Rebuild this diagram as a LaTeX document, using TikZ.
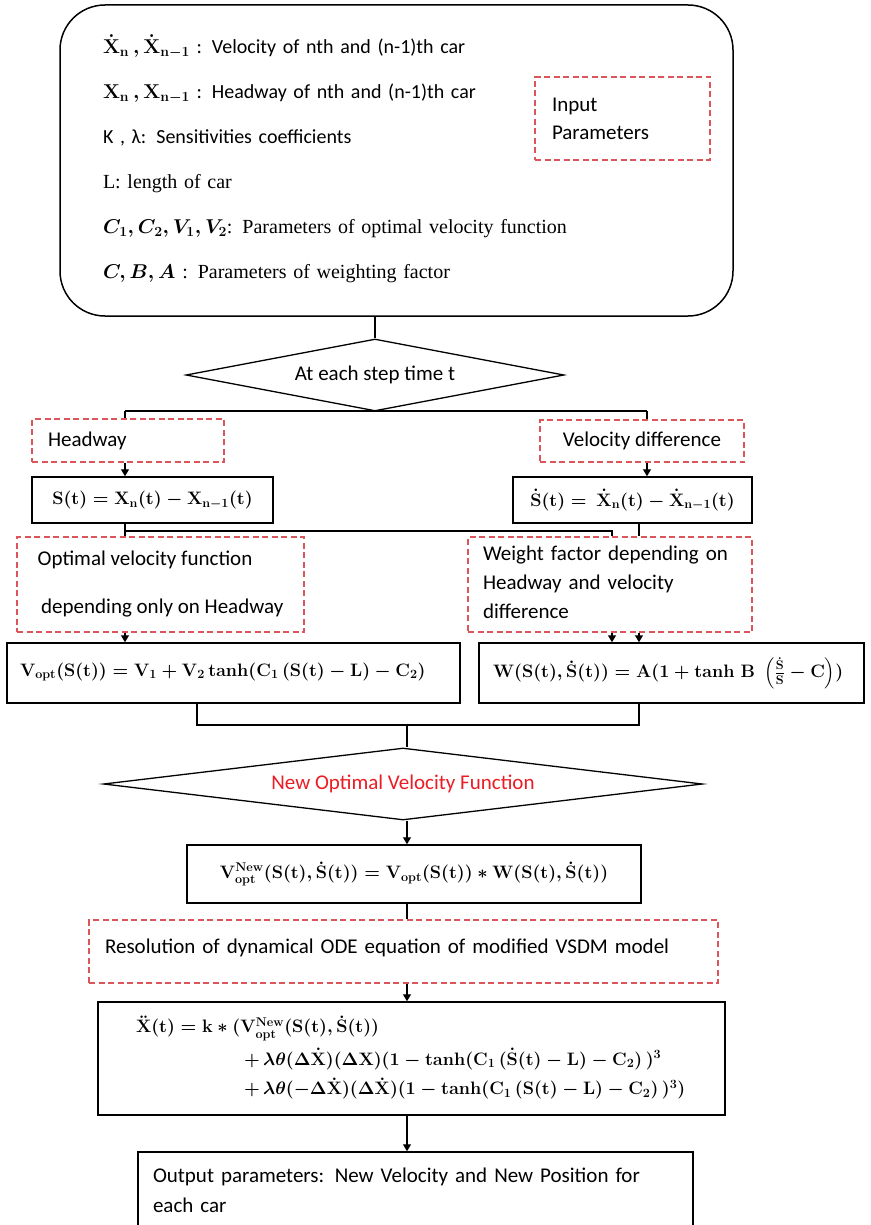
\RequirePackage{fix-cm}
\documentclass[tikz,border=0pt]{standalone}
\usepackage{amsmath}
\usepackage[no-math]{fontspec}
\setmainfont{Carlito}
\newfontfamily\serf{Liberation Serif}
\usetikzlibrary{shapes.geometric,arrows.meta}
\definecolor{dred}{RGB}{220,85,90}
\definecolor{tred}{RGB}{236,28,36}
\tikzset{
  solidbox/.style={draw=black, line width=1.5pt, fill=white, rectangle, inner sep=0pt},
  dashbox/.style={draw=dred, line width=1.3pt, dash pattern=on 6pt off 3.5pt, fill=white, rectangle, inner sep=0pt},
  decision/.style={draw=black, line width=1.3pt, diamond, fill=white, inner sep=0pt},
  conn/.style={line width=1.2pt, draw=black},
  arr/.style={conn, -{Triangle[length=7pt,width=8pt]}},
  tx/.style={font=\fontsize{21}{25}\selectfont},
  eq/.style={font=\fontsize{18}{22}\selectfont\boldmath},
}
\begin{document}
\begin{tikzpicture}[x=1pt,y=-1pt]
\useasboundingbox (0,0) rectangle (870,1225);

% input parameters
\node[solidbox, rounded corners=45pt, minimum width=673pt, minimum height=311pt,
      text width=587pt, align=left, inner xsep=43pt,
      font=\fontsize{20}{24}\selectfont\boldmath] (params) at (396.5,160.5)
{\raisebox{-8pt}{\begin{tabular}{@{}l@{}}
$\dot{\mathbf X}_{\mathbf n}\,,\dot{\mathbf X}_{\mathbf{n-1}}$ : Velocity of nth and (n-1)th car\\[21pt]
$\mathbf X_{\mathbf n}\,,\mathbf X_{\mathbf{n-1}}$ : Headway of nth and (n-1)th car\\[21pt]
K , λ: Sensitivities coefficients\\[21pt]
{\serf L: length of car}\\[21pt]
$\boldsymbol{C_1, C_2, V_1, V_2}${\serf: Parameters of optimal velocity function}\\[21pt]
$\boldsymbol{C, B, A}$ {\serf: Parameters of weighting factor}
\end{tabular}}};

\node[dashbox, tx, minimum width=175pt, minimum height=83pt, text width=141pt,
      inner xsep=17pt, align=left] (input) at (622.5,118.5) {Input\\[3pt]Parameters};

\node[decision, tx, minimum width=378pt, minimum height=72pt, shape aspect=5.25] (d1) at (375,375) {At each step time t};

\node[dashbox, tx, minimum width=192pt, minimum height=43pt, text width=160pt,
      inner xsep=16pt, align=left] (headway) at (128,440.5) {Headway};
\node[dashbox, tx, minimum width=204pt, minimum height=42pt] (vdiff) at (642,441) {Velocity difference};

\node[solidbox, eq, minimum width=241pt, minimum height=46pt] (S) at (152.5,500)
  {$\mathbf{S(t) = X_n(t) - X_{n-1}(t)}$};
\node[solidbox, eq, minimum width=239pt, minimum height=46pt] (Sd) at (632.5,500)
  {$\dot{\mathbf S}(\mathbf t) =\ \dot{\mathbf X}_{\mathbf n}(\mathbf t) - \dot{\mathbf X}_{\mathbf{n-1}}(\mathbf t)$};

\node[dashbox, tx, minimum width=287pt, minimum height=95pt, align=left] (optim) at (160.5,584.5)
  {Optimal velocity function\\[23pt]\,depending only on Headway};
\node[dashbox, tx, minimum width=284pt, minimum height=95pt, text width=254pt,
      inner xsep=15pt, align=left] (weight) at (610,584.5)
  {\raisebox{-12pt}{\begin{tabular}{@{}l@{}}Weight factor depending on\\[4pt]Headway and velocity\\[4pt]difference\end{tabular}}};

\node[solidbox, eq, minimum width=453pt, minimum height=60pt, text width=427pt,
      inner xsep=13pt, align=left] (vopt) at (233.5,673)
  {\raisebox{7pt}{$\mathbf{V_{opt}(S(t)) = V_1 + V_2\, tanh(C_1\,(S(t) - L) - C_2)}$}};
\node[solidbox, eq, minimum width=385pt, minimum height=60pt, text width=357pt,
      inner xsep=14pt, align=left] (W) at (671.5,673)
  {$\mathbf{W(S(t),\dot S(t)) = A(1 + tanh\ B\ \left(\frac{\dot S}{S} - C\right))}$};

\node[decision, tx, text=tred, minimum width=599pt, minimum height=72pt, shape aspect=8.3] (d2) at (403,784)
  {New Optimal Velocity Function};

\node[solidbox, eq, minimum width=454pt, minimum height=58pt] (vnew) at (414,874)
  {$\mathbf{V^{New}_{opt}(S(t),\dot S(t)) = V_{opt}(S(t)) * W(S(t),\dot S(t))}$};

\node[dashbox, tx, minimum width=629pt, minimum height=63pt, text width=597pt,
      inner xsep=16pt, align=left] (ode) at (403.5,951.5)
  {\raisebox{11pt}{Resolution of dynamical ODE equation of modified VSDM model}};

\node[solidbox, eq, minimum width=627pt, minimum height=113pt, text width=551pt,
      inner xsep=38pt, align=left] (xdd) at (411.5,1058.5)
  {\begin{tabular}{@{}l@{}}
  $\ddot{\mathbf X}(\mathbf t) = \mathbf k * (\mathbf{V^{New}_{opt}(S(t),\dot S(t))}$\\[9pt]
  \hspace*{108pt}$\mathbf{+\,\lambda\theta(\Delta\dot X)(\Delta X)(1 - tanh(C_1\,(\dot S(t) - L) - C_2)\,)^3}$\\[6pt]
  \hspace*{108pt}$\mathbf{+\,\lambda\theta(-\Delta\dot X)(\Delta\dot X)(1 - tanh(C_1\,(S(t) - L) - C_2)\,)^3)}$
  \end{tabular}};

\node[solidbox, tx, minimum width=555pt, minimum height=76pt, text width=525pt,
      inner xsep=15pt, align=left] (out) at (415.5,1190)
  {Output parameters: New Velocity and New Position for\\[5pt]each car};

% connectors
\coordinate (jL) at (125,411);
\coordinate (jR) at (647,411);
\coordinate (sJ) at (125,531);
\coordinate (wA) at (612,531);
\coordinate (wB) at (639,523);
\coordinate (mL) at (197,725);
\coordinate (mR) at (639,725);
\coordinate (mC) at (407,725);
\coordinate (cx) at (407,0);

\draw[conn] (d1.north |- params.south) -- (d1.north);
\draw[conn] (jL) -- (jR);
\draw[conn] (jL) -- (jL |- headway.north);
\draw[arr] (jL |- headway.south) -- (jL |- S.north);
\draw[conn] (jR) -- (jR |- vdiff.north);
\draw[arr] (jR |- vdiff.south) -- (jR |- Sd.north);

\draw[conn] (jL |- S.south) -- (jL |- optim.north);
\draw[conn] (sJ) -- (wA) -- (wA |- weight.north);
\draw[conn] (wB |- Sd.south) -- (wB |- weight.north);
\draw[arr] (jL |- optim.south) -- (jL |- vopt.north);
\draw[arr] (wA |- weight.south) -- (wA |- W.north);
\draw[arr] (wB |- weight.south) -- (wB |- W.north);

\draw[conn] (mL |- vopt.south) -- (mL) -- (mR) -- (mR |- W.south);
\draw[conn] (mC) -- (mC |- d2.north);
\draw[arr] (cx |- d2.south) -- (cx |- vnew.north);
\draw[conn] (cx |- vnew.south) -- (cx |- ode.north);
\draw[arr] (cx |- ode.south) -- (cx |- xdd.north);
\draw[arr] (cx |- xdd.south) -- (cx |- out.north);
\end{tikzpicture}
\end{document}
